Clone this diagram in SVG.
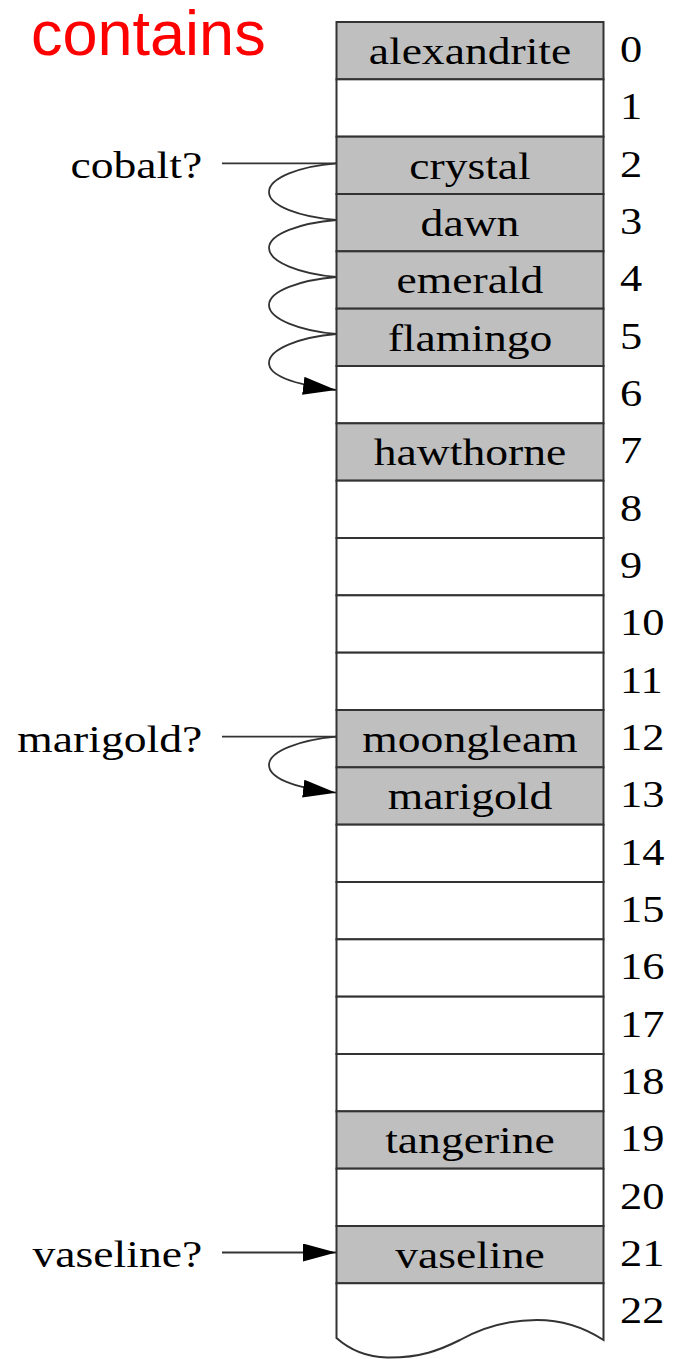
<svg xmlns="http://www.w3.org/2000/svg" width="677" height="1359" viewBox="0 0 677 1359">
  <style>
    .cell { stroke: #333333; stroke-width: 2; }
    .full { fill: #bfbfbf; }
    .free { fill: #ffffff; }
    .word { font-family: "Liberation Serif", serif; font-size: 38px; fill: #000; }
    .idx { font-family: "Liberation Serif", serif; font-size: 37px; fill: #000; }
    .mid { text-anchor: middle; }
    .end { text-anchor: end; }
    .probe { fill: none; stroke: #333333; stroke-width: 1.8; }
    .title { font-family: "Liberation Sans", Arial, sans-serif; font-size: 63px; fill: #ff0000; }
  </style>
  <defs>
    <marker id="head" markerUnits="userSpaceOnUse" markerWidth="34" markerHeight="18" refX="33" refY="9" orient="auto">
      <path d="M0,0 L33,9 L0,18 Z" fill="#000"/>
    </marker>
  </defs>

  <rect width="677" height="1359" fill="#ffffff"/>

  <text class="title" x="31" y="55">contains</text>

  <!-- hash table slots: top = 22 + i*57.33 -->
  <g id="slots">
    <g id="slot-0"><rect class="cell full" x="336.5" y="22" width="267" height="57.33"/></g>
    <g id="slot-1"><rect class="cell free" x="336.5" y="79.33" width="267" height="57.33"/></g>
    <g id="slot-2"><rect class="cell full" x="336.5" y="136.67" width="267" height="57.33"/></g>
    <g id="slot-3"><rect class="cell full" x="336.5" y="194" width="267" height="57.33"/></g>
    <g id="slot-4"><rect class="cell full" x="336.5" y="251.33" width="267" height="57.33"/></g>
    <g id="slot-5"><rect class="cell full" x="336.5" y="308.67" width="267" height="57.33"/></g>
    <g id="slot-6"><rect class="cell free" x="336.5" y="366" width="267" height="57.33"/></g>
    <g id="slot-7"><rect class="cell full" x="336.5" y="423.33" width="267" height="57.33"/></g>
    <g id="slot-8"><rect class="cell free" x="336.5" y="480.67" width="267" height="57.33"/></g>
    <g id="slot-9"><rect class="cell free" x="336.5" y="538" width="267" height="57.33"/></g>
    <g id="slot-10"><rect class="cell free" x="336.5" y="595.33" width="267" height="57.33"/></g>
    <g id="slot-11"><rect class="cell free" x="336.5" y="652.67" width="267" height="57.33"/></g>
    <g id="slot-12"><rect class="cell full" x="336.5" y="710" width="267" height="57.33"/></g>
    <g id="slot-13"><rect class="cell full" x="336.5" y="767.33" width="267" height="57.33"/></g>
    <g id="slot-14"><rect class="cell free" x="336.5" y="824.67" width="267" height="57.33"/></g>
    <g id="slot-15"><rect class="cell free" x="336.5" y="882" width="267" height="57.33"/></g>
    <g id="slot-16"><rect class="cell free" x="336.5" y="939.33" width="267" height="57.33"/></g>
    <g id="slot-17"><rect class="cell free" x="336.5" y="996.67" width="267" height="57.33"/></g>
    <g id="slot-18"><rect class="cell free" x="336.5" y="1054" width="267" height="57.33"/></g>
    <g id="slot-19"><rect class="cell full" x="336.5" y="1111.33" width="267" height="57.33"/></g>
    <g id="slot-20"><rect class="cell free" x="336.5" y="1168.67" width="267" height="57.33"/></g>
    <g id="slot-21"><rect class="cell full" x="336.5" y="1226" width="267" height="57.33"/></g>
    <!-- last slot with torn bottom edge -->
    <g id="slot-22"><path class="cell free" d="M336.5,1283.33 L603.5,1283.33 L603.5,1340 C585,1328 565,1320 537,1320 C510,1320 485,1326 460,1340 C440,1350 420,1358 387,1357.5 C365,1357 350,1350 336.5,1338 Z"/></g>
  </g>

  <!-- serif labels, widened 1.2x horizontally -->
  <g id="keys" transform="scale(1.2 1)">
    <text class="word mid" x="391.67" y="64.2">alexandrite</text>
    <text class="word mid" x="391.67" y="178.8">crystal</text>
    <text class="word mid" x="391.67" y="236.2">dawn</text>
    <text class="word mid" x="391.67" y="293.5">emerald</text>
    <text class="word mid" x="391.67" y="350.8">flamingo</text>
    <text class="word mid" x="391.67" y="465.5">hawthorne</text>
    <text class="word mid" x="391.67" y="752.2">moongleam</text>
    <text class="word mid" x="391.67" y="809.5">marigold</text>
    <text class="word mid" x="391.67" y="1153.5">tangerine</text>
    <text class="word mid" x="391.67" y="1268.2">vaseline</text>
  </g>

  <g id="queries" transform="scale(1.2 1)">
    <text class="word end" x="168.5" y="178.3">cobalt?</text>
    <text class="word end" x="168.5" y="752">marigold?</text>
    <text class="word end" x="168.5" y="1267.5">vaseline?</text>
  </g>

  <g id="indices" transform="scale(1.2 1)">
    <text class="idx" x="516.67" y="62.2">0</text>
    <text class="idx" x="516.67" y="119.5">1</text>
    <text class="idx" x="516.67" y="176.8">2</text>
    <text class="idx" x="516.67" y="234.2">3</text>
    <text class="idx" x="516.67" y="291.5">4</text>
    <text class="idx" x="516.67" y="348.8">5</text>
    <text class="idx" x="516.67" y="406.2">6</text>
    <text class="idx" x="516.67" y="463.5">7</text>
    <text class="idx" x="516.67" y="520.8">8</text>
    <text class="idx" x="516.67" y="578.2">9</text>
    <text class="idx" x="516.67" y="635.5">10</text>
    <text class="idx" x="516.67" y="692.8">11</text>
    <text class="idx" x="516.67" y="750.2">12</text>
    <text class="idx" x="516.67" y="807.5">13</text>
    <text class="idx" x="516.67" y="864.8">14</text>
    <text class="idx" x="516.67" y="922.2">15</text>
    <text class="idx" x="516.67" y="979.5">16</text>
    <text class="idx" x="516.67" y="1036.8">17</text>
    <text class="idx" x="516.67" y="1094.2">18</text>
    <text class="idx" x="516.67" y="1151.5">19</text>
    <text class="idx" x="516.67" y="1208.8">20</text>
    <text class="idx" x="516.67" y="1266.2">21</text>
    <text class="idx" x="516.67" y="1323.5">22</text>
  </g>

  <!-- probe sequences -->
  <g id="connectors">
    <path class="probe" d="M222,163.3 L336.5,163.3"/>
    <path class="probe" marker-end="url(#head)" d="M336.5,163.3 C300,166 269,178 269,192 C269,206 300,217 336.5,220 C300,223 269,234 269,248 C269,262 300,274 336.5,277 C300,280 269,291 269,305 C269,319 300,331 336.5,334 C300,337 269,349 269,363 C269,375 290,384 336,390"/>

    <path class="probe" d="M222,736.7 L336.5,736.7"/>
    <path class="probe" marker-end="url(#head)" d="M336.5,736.7 C300,740 269,751 269,765 C269,777 290,787 336,792.7"/>

    <path class="probe" marker-end="url(#head)" d="M222,1252.5 L336,1252.5"/>
  </g>
</svg>
